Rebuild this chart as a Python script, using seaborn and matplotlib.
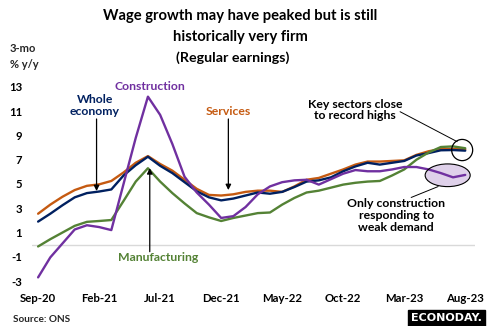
import matplotlib
matplotlib.use("Agg")
import matplotlib.pyplot as plt
from matplotlib.patches import Ellipse
import seaborn as sns
import pandas as pd
import numpy as np

# ---------------- data ----------------
months = ["Sep-20","Oct-20","Nov-20","Dec-20","Jan-21","Feb-21","Mar-21","Apr-21","May-21","Jun-21",
          "Jul-21","Aug-21","Sep-21","Oct-21","Nov-21","Dec-21","Jan-22","Feb-22","Mar-22","Apr-22",
          "May-22","Jun-22","Jul-22","Aug-22","Sep-22","Oct-22","Nov-22","Dec-22","Jan-23","Feb-23",
          "Mar-23","Apr-23","May-23","Jun-23","Jul-23","Aug-23"]
whole_economy = [1.9, 2.55, 3.25, 3.9, 4.25, 4.38, 4.55, 5.7, 6.55, 7.25, 6.5, 5.9, 5.15, 4.4, 3.9, 3.65,
                 3.8, 4.05, 4.3, 4.2, 4.35, 4.75, 5.2, 5.3, 5.55, 6.05, 6.45, 6.75, 6.6, 6.75, 6.9, 7.35,
                 7.55, 7.78, 7.8, 7.75]
services = [2.55, 3.3, 3.95, 4.5, 4.85, 4.97, 5.25, 5.95, 6.75, 7.3, 6.65, 6.1, 5.35, 4.6, 4.1, 4.05,
            4.15, 4.35, 4.45, 4.45, 4.35, 4.8, 5.35, 5.5, 5.85, 6.2, 6.6, 6.85, 6.85, 6.9, 6.95, 7.4,
            7.7, 7.88, 7.9, 7.85]
manufacturing = [-0.15, 0.45, 1.0, 1.55, 1.88, 1.95, 2.03, 3.6, 5.2, 6.3, 5.2, 4.25, 3.4, 2.6, 2.25, 1.95,
                 2.2, 2.4, 2.6, 2.65, 3.3, 3.85, 4.3, 4.45, 4.7, 4.95, 5.1, 5.2, 5.25, 5.7, 6.2, 7.0,
                 7.6, 8.05, 8.1, 7.95]
construction = [-2.7, -1.05, 0.1, 1.25, 1.6, 1.45, 1.2, 5.0, 8.8, 12.2, 10.7, 8.3, 5.6, 4.3, 3.3, 2.2,
                2.35, 3.1, 4.15, 4.8, 5.15, 5.3, 5.35, 4.95, 5.4, 5.85, 6.15, 6.05, 6.05, 6.2, 6.4, 6.4,
                6.2, 5.9, 5.55, 5.75]
tick_labels = ["Sep-20", "Feb-21", "Jul-21", "Dec-21", "May-22", "Oct-22", "Mar-23", "Aug-23"]
y_ticks = [13, 11, 9, 7, 5, 3, 1, -1, -3]

series_names = ["Services", "Whole economy", "Manufacturing", "Construction"]
series_vals = [services, whole_economy, manufacturing, construction]
colors = {"Whole economy": "#002060", "Services": "#C55A11",
          "Manufacturing": "#548235", "Construction": "#7030A0"}

rows = []
for name, vals in zip(series_names, series_vals):
    for i, (m, v) in enumerate(zip(months, vals)):
        rows.append({"idx": i, "month": m, "series": name, "value": v})
df = pd.DataFrame(rows)

# ---------------- plot ----------------
sns.set_theme(style="white")
plt.rcParams["font.family"] = ["Lato", "DejaVu Sans"]
plt.rcParams["font.weight"] = "bold"

fig = plt.figure(figsize=(4.89, 3.26), dpi=100)
ax = fig.add_axes([32/489, 1-287.1/326, 443/489, (287.1-80.9)/326])

ax.axhline(0, color="#D9D9D9", lw=1.0, zorder=1)
sns.lineplot(data=df, x="idx", y="value", hue="series", hue_order=series_names,
             palette=colors, linewidth=1.7, legend=False, ax=ax, zorder=3)

ax.set_xlim(-0.5, 35.8)
ax.set_ylim(-3.5, 13.5)
for s in ax.spines.values():
    s.set_visible(False)
ax.set_xlabel("")
ax.set_ylabel("")
tick_pos = [months.index(t) for t in tick_labels]
ax.set_xticks(tick_pos)
ax.set_xticklabels(tick_labels, fontsize=8.2, fontweight="bold", color="#000000")
ax.set_yticks(y_ticks)
ax.set_yticklabels([str(t) for t in y_ticks], fontsize=8.2, fontweight="bold", color="#000000")
ax.tick_params(axis="x", length=0, pad=4.5)
ax.tick_params(axis="y", length=0, pad=7)
ax.grid(False)

# titles
fig.text(240/489, 1-16/326, "Wage growth may have peaked but is still", ha="center", va="center",
         fontsize=10.6, fontweight="bold", color="#000000")
fig.text(240/489, 1-37/326, "historically very firm", ha="center", va="center",
         fontsize=10.6, fontweight="bold", color="#000000")
fig.text(233/489, 1-58/326, "(Regular earnings)", ha="center", va="center",
         fontsize=10.3, fontweight="bold", color="#000000")
fig.text(10/489, 1-49/326, "3-mo", ha="left", va="center", fontsize=8, fontweight="bold")
fig.text(10/489, 1-65/326, "% y/y", ha="left", va="center", fontsize=8, fontweight="bold")
fig.text(13/489, 1-319/326, "Source: ONS", ha="left", va="center", fontsize=7.2, fontweight="bold")
fig.text(446.5/489, 1-318/326, "ECONODAY.", ha="center", va="center", fontsize=8, fontweight="heavy",
         color="white", family=["DejaVu Sans"],
         bbox=dict(boxstyle="square,pad=0.3", fc="black", ec="black"))

# labels and arrows
arrow_kw = dict(arrowstyle="-|>", color="black", lw=0.9, mutation_scale=8, shrinkA=0, shrinkB=0)
lab_fs = 8.8
ax.text(4.67, 11.47, "Whole\neconomy", color="#002060", ha="center", va="center",
        fontsize=lab_fs, fontweight="bold", linespacing=1.05)
ax.annotate("", xy=(4.79, 4.42), xytext=(4.79, 10.36), arrowprops=arrow_kw)
ax.text(9.17, 13.0, "Construction", color="#7030A0", ha="center", va="center",
        fontsize=lab_fs, fontweight="bold")
ax.text(15.57, 10.94, "Services", color="#C55A11", ha="center", va="center",
        fontsize=lab_fs, fontweight="bold")
ax.annotate("", xy=(15.59, 4.5), xytext=(15.59, 10.36), arrowprops=arrow_kw)
ax.text(9.87, -1.1, "Manufacturing", color="#548235", ha="center", va="center",
        fontsize=lab_fs, fontweight="bold")
ax.annotate("", xy=(9.15, 6.3), xytext=(9.15, -0.58), arrowprops=arrow_kw)

ax.text(25.97, 11.1, "Key sectors close\nto record highs", color="black", ha="center", va="center",
        fontsize=lab_fs, fontweight="bold", linespacing=1.1)
ax.plot([29.66, 34.34], [10.96, 8.49], color="black", lw=0.7, zorder=4)
ax.add_patch(Ellipse((34.75, 7.8), 1.72, 1.75, fc="none", ec="black", lw=0.9, zorder=5))

ax.add_patch(Ellipse((33.56, 5.72), 3.69, 1.87, fc="#7030A0", alpha=0.22, ec="none", zorder=2))
ax.add_patch(Ellipse((33.56, 5.72), 3.69, 1.87, fc="none", ec="black", lw=0.8, zorder=5))
ax.plot([30.57, 32.78], [3.89, 4.79], color="black", lw=0.7, zorder=4)
ax.text(29.34, 2.38, "Only construction\nresponding to\nweak demand", color="black", ha="center",
        va="center", fontsize=lab_fs, fontweight="bold", linespacing=1.1)

fig.savefig("out.png", dpi=100)
